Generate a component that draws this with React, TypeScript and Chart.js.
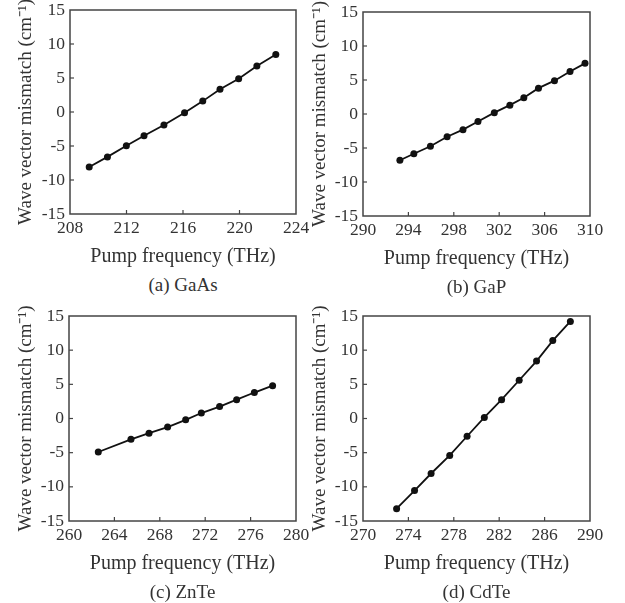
import React, { useEffect, useRef } from "react";
import { Chart, registerables } from "chart.js";

Chart.register(...registerables);

// ---- data ----
const gaasFreq = [209.36, 210.65, 211.99, 213.24, 214.65, 216.11, 217.4, 218.62, 219.94, 221.23, 222.57];
const gaasMismatch = [-8.1, -6.6, -4.95, -3.5, -1.9, -0.1, 1.6, 3.35, 4.9, 6.75, 8.45];

const gapFreq = [293.25, 294.48, 295.94, 297.41, 298.81, 300.13, 301.57, 302.94, 304.17, 305.46, 306.87, 308.24, 309.56];
const gapMismatch = [-6.8, -5.85, -4.75, -3.35, -2.3, -1.1, 0.2, 1.3, 2.4, 3.8, 4.9, 6.25, 7.45];

const znteFreq = [262.58, 265.46, 267.05, 268.69, 270.28, 271.66, 273.27, 274.77, 276.33, 277.94];
const znteMismatch = [-4.9, -3.05, -2.15, -1.25, -0.2, 0.8, 1.75, 2.75, 3.8, 4.8];

const cdteFreq = [272.96, 274.54, 276.0, 277.64, 279.17, 280.69, 282.21, 283.76, 285.29, 286.72, 288.27];
const cdteMismatch = [-13.2, -10.55, -8.05, -5.4, -2.6, 0.15, 2.75, 5.6, 8.4, 11.4, 14.2];

const gaasRange = [208, 224];
const gapRange = [290, 310];
const znteRange = [260, 280];
const cdteRange = [270, 290];
const xStep = 4;
const yRange = [-15, 15];
const yStep = 5;

const xTitle = "Pump frequency (THz)";
const yTitle = "Wave vector mismatch (cm\u207B\u00B9)";
const captions = ["(a) GaAs", "(b) GaP", "(c) ZnTe", "(d) CdTe"];

const FONT = "'Liberation Serif', 'Times New Roman', serif";
const TEXT = "#333";
const AXIS = "#444";
const X_TITLE_SIZE = 20;
const Y_TITLE_SIZE = 19;

const framePlugin = {
  id: "frameTicks",
  beforeDatasetsDraw(chart: any) {
    const { ctx, chartArea, scales } = chart;
    const { left, right, top, bottom } = chartArea;
    ctx.save();
    ctx.strokeStyle = AXIS;
    ctx.lineWidth = 1.5;
    ctx.strokeRect(left, top, right - left, bottom - top);
    ctx.lineWidth = 1.2;
    const xs = scales.x;
    const ys = scales.y;
    xs.ticks.forEach((t: any) => {
      if (t.value === xs.min || t.value === xs.max) return;
      const px = xs.getPixelForValue(t.value);
      ctx.beginPath();
      ctx.moveTo(px, bottom);
      ctx.lineTo(px, bottom - 4);
      ctx.stroke();
    });
    ys.ticks.forEach((t: any) => {
      if (t.value === ys.min || t.value === ys.max) return;
      const py = ys.getPixelForValue(t.value);
      ctx.beginPath();
      ctx.moveTo(left, py);
      ctx.lineTo(left + 4, py);
      ctx.stroke();
    });
    ctx.restore();
  },
};

type Box = { left: number; top: number; right: number; bottom: number };

function Panel(props: {
  freq: number[];
  values: number[];
  range: number[];
  caption: string;
  box: Box;
  canvasLeft: number;
  canvasWidth: number;
  titleX: number;
}) {
  const ref = useRef<HTMLCanvasElement | null>(null);
  const { freq, values, range, caption, box, canvasLeft, canvasWidth, titleX } = props;
  const padTop = 20;
  const axisH = 60;
  const canvasTop = box.top - padTop;
  const canvasHeight = padTop + (box.bottom - box.top) + axisH;

  useEffect(() => {
    if (!ref.current) return;
    const chart = new Chart(ref.current, {
      type: "line",
      data: {
        datasets: [
          {
            data: freq.map((f, i) => ({ x: f, y: values[i] })),
            borderColor: "#111",
            backgroundColor: "#111",
            borderWidth: 1.8,
            pointRadius: 3.5,
            pointBackgroundColor: "#111",
            pointBorderWidth: 0,
            tension: 0,
          },
        ],
      },
      options: {
        animation: false,
        responsive: false,
        events: [],
        layout: {
          padding: {
            top: padTop,
            left: 0,
            right: canvasLeft + canvasWidth - box.right,
            bottom: 0,
          },
        },
        plugins: {
          legend: { display: false },
          tooltip: { enabled: false },
          title: { display: false },
        },
        scales: {
          x: {
            type: "linear",
            min: range[0],
            max: range[1],
            grid: { display: false, drawTicks: false },
            border: { display: false },
            ticks: {
              stepSize: xStep,
              color: TEXT,
              padding: 4,
              maxRotation: 0,
              autoSkip: false,
              font: { family: FONT, size: 17.5 },
            },
            title: {
              display: true,
              text: xTitle,
              color: TEXT,
              padding: { top: 0, bottom: 5 },
              font: { family: FONT, size: X_TITLE_SIZE },
            },
            afterFit(scale: any) {
              scale.height = axisH;
            },
          },
          y: {
            min: yRange[0],
            max: yRange[1],
            grid: { display: false, drawTicks: false },
            border: { display: false },
            ticks: {
              stepSize: yStep,
              color: TEXT,
              padding: 5,
              autoSkip: false,
              font: { family: FONT, size: 17.5 },
            },
            title: {
              display: true,
              text: yTitle,
              color: TEXT,
              padding: { top: titleX - canvasLeft - Y_TITLE_SIZE * 0.6, bottom: 0 },
              font: { family: FONT, size: Y_TITLE_SIZE },
            },
            afterFit(scale: any) {
              scale.width = box.left - canvasLeft;
            },
          },
        },
      },
      plugins: [framePlugin],
    } as any);
    return () => chart.destroy();
  }, []);

  return (
    <>
      <canvas
        ref={ref}
        width={canvasWidth}
        height={canvasHeight}
        style={{
          position: "absolute",
          left: canvasLeft,
          top: canvasTop,
          width: canvasWidth,
          height: canvasHeight,
        }}
      />
      <div
        style={{
          position: "absolute",
          left: box.left,
          width: box.right - box.left,
          top: box.bottom + 71 - 11,
          height: 22,
          lineHeight: "22px",
          textAlign: "center",
          fontFamily: FONT,
          fontSize: 19,
          color: TEXT,
          whiteSpace: "nowrap",
        }}
      >
        {caption}
      </div>
    </>
  );
}

export default function App() {
  return (
    <div
      style={{
        position: "absolute",
        left: 0,
        top: 0,
        width: 625,
        height: 603,
        background: "#fff",
        overflow: "hidden",
      }}
    >
      <Panel
        freq={gaasFreq}
        values={gaasMismatch}
        range={gaasRange}
        caption={captions[0]}
        box={{ left: 70, top: 10, right: 296, bottom: 214 }}
        canvasLeft={0}
        canvasWidth={322}
        titleX={26}
      />
      <Panel
        freq={gapFreq}
        values={gapMismatch}
        range={gapRange}
        caption={captions[1]}
        box={{ left: 363, top: 12, right: 590, bottom: 216 }}
        canvasLeft={300}
        canvasWidth={325}
        titleX={320}
      />
      <Panel
        freq={znteFreq}
        values={znteMismatch}
        range={znteRange}
        caption={captions[2]}
        box={{ left: 69, top: 316, right: 296, bottom: 521 }}
        canvasLeft={0}
        canvasWidth={322}
        titleX={26}
      />
      <Panel
        freq={cdteFreq}
        values={cdteMismatch}
        range={cdteRange}
        caption={captions[3]}
        box={{ left: 363, top: 316, right: 590, bottom: 521 }}
        canvasLeft={300}
        canvasWidth={325}
        titleX={320}
      />
    </div>
  );
}
